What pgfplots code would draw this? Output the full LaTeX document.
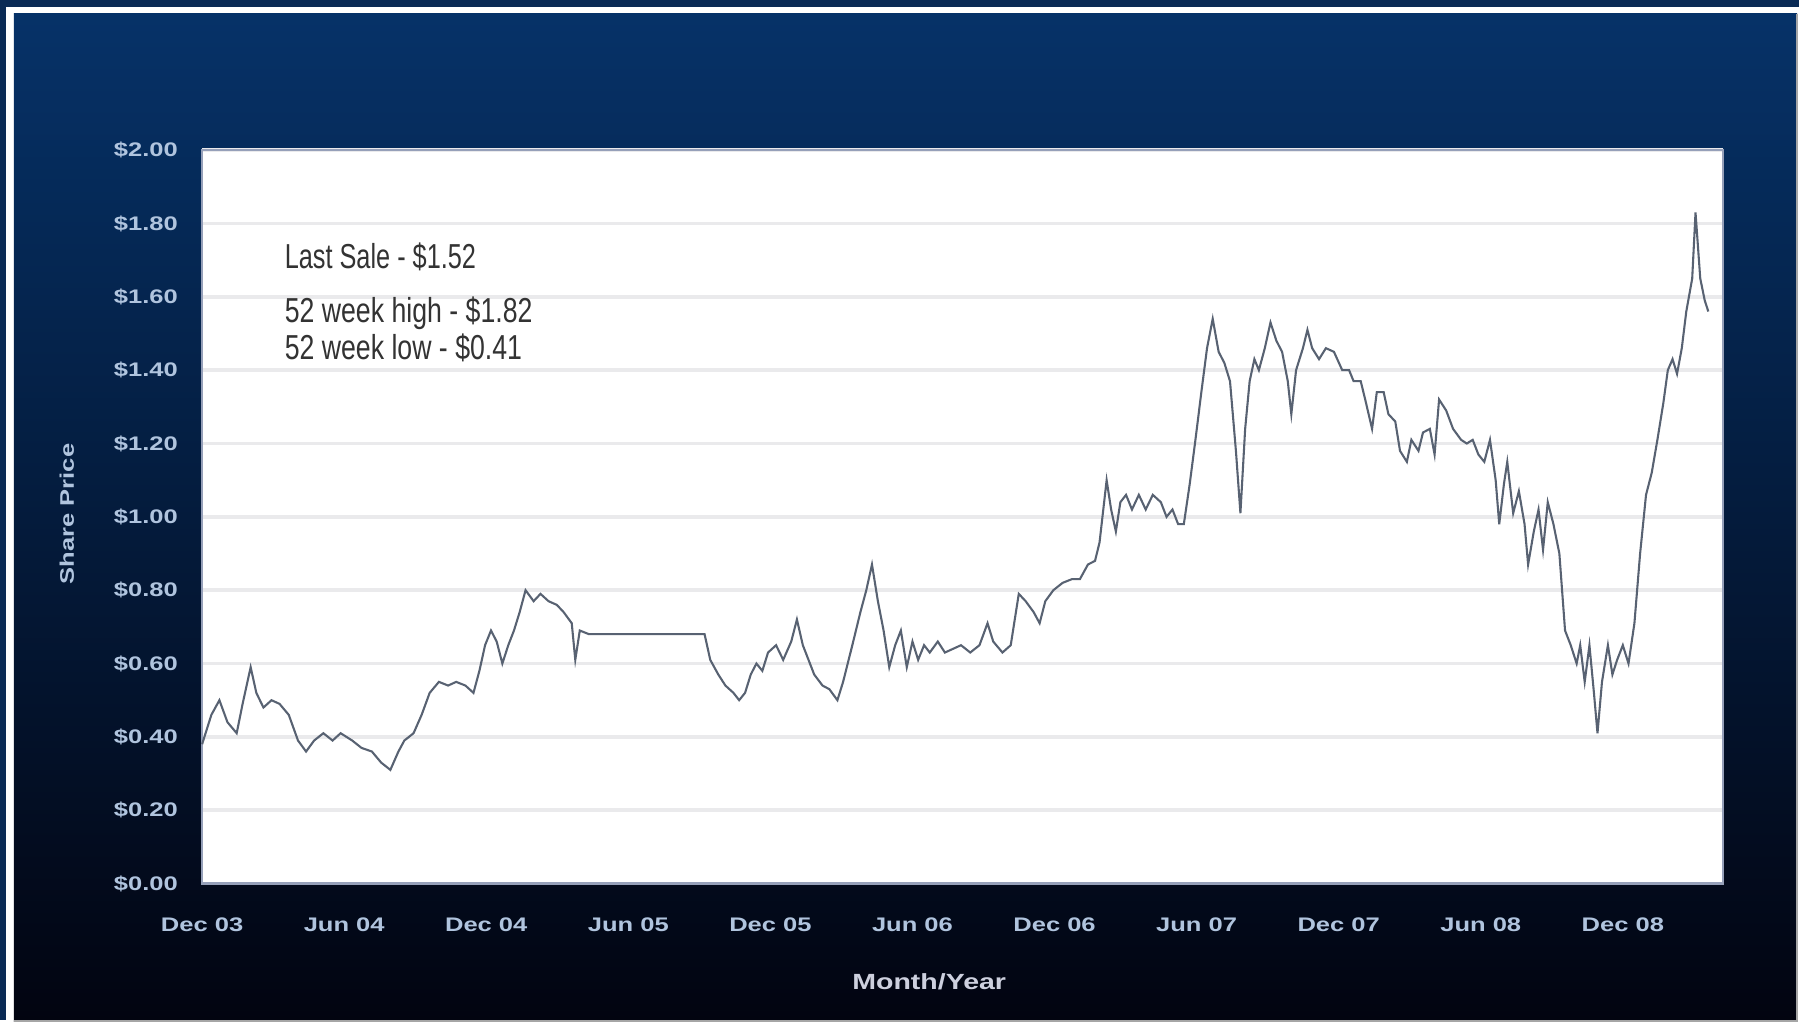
\documentclass[border=0pt]{standalone}
\usepackage{pgfplots}
\pgfplotsset{compat=1.18}
\usepackage{fontspec}
\setmainfont{Liberation Sans}
\newfontfamily\tickfont[FakeStretch=1.3]{Liberation Sans}
\newfontfamily\narrowfont[FakeStretch=0.73]{Liberation Sans}
\newfontfamily\narrowerfont[FakeStretch=0.77]{Liberation Sans}

\definecolor{navyframe}{RGB}{10,42,85}
\definecolor{paneltop}{RGB}{6,50,104}
\definecolor{panelmid}{RGB}{4,34,72}
\definecolor{panelbot}{RGB}{2,4,16}
\definecolor{tickblue}{RGB}{176,196,222}
\definecolor{labelgray}{RGB}{205,208,222}
\definecolor{pricegray}{RGB}{88,98,114}
\definecolor{gridgray}{RGB}{234,234,236}
\definecolor{edgegray}{RGB}{150,160,185}

% months since Dec 2003, share price in dollars
\begin{document}
\begin{tikzpicture}
\useasboundingbox (-87.5pt,-62pt) rectangle (696.5pt,382.5pt);
\fill[white] (-87.5pt,-62pt) rectangle (696.5pt,382.5pt);
\fill[navyframe] (-87.5pt,-59pt) rectangle (691.5pt,382.5pt);
\fill[white] (-85pt,-62pt) rectangle (696.5pt,379.5pt);
\shade[top color=paneltop, middle color=panelmid, bottom color=panelbot]
  (-81.5pt,-59.5pt) rectangle (690.5pt,376.5pt);
\draw[gray!70, line width=0.8pt] (690.5pt,376.5pt) -- (690.5pt,-59.5pt) -- (-81.5pt,-59.5pt);

\begin{axis}[
    at={(0pt,0pt)}, anchor=origin,
    scale only axis,
    width=658.5pt, height=317.5pt,
    xmin=0, xmax=64.24, ymin=0, ymax=2,
    axis background/.style={fill=white},
    axis line style={draw=edgegray, line width=1pt},
    major tick length=0pt,
    ymajorgrids,
    major grid style={draw=gridgray, line width=1.6pt},
    xtick={0,6,12,18,24,30,36,42,48,54,60},
    xticklabels={Dec 03,Jun 04,Dec 04,Jun 05,Dec 05,Jun 06,Dec 06,Jun 07,Dec 07,Jun 08,Dec 08},
    ytick={0,0.2,0.4,0.6,0.8,1,1.2,1.4,1.6,1.8,2},
    yticklabels={\$0.00,\$0.20,\$0.40,\$0.60,\$0.80,\$1.00,\$1.20,\$1.40,\$1.60,\$1.80,\$2.00},
    tick label style={font=\tickfont\bfseries\fontsize{8.5}{10}\selectfont, text=tickblue},
    yticklabel style={xshift=-7pt},
    xticklabel style={yshift=-11.5pt},
    xlabel={Month/Year},
    ylabel={Share Price},
    xlabel style={at={(axis description cs:0.478,-0.134)}, anchor=center,
        font=\tickfont\bfseries\fontsize{9.5}{11}\selectfont, text=labelgray},
    ylabel style={at={(axis description cs:-0.0889,0.504)}, anchor=center,
        font=\tickfont\bfseries\fontsize{8.5}{10}\selectfont, text=tickblue},
    clip=false,
]
\addplot[pricegray, line width=0.9pt] table {
x y
0 0.38
0.39 0.46
0.73 0.50
1.07 0.44
1.46 0.41
1.71 0.49
2.05 0.59
2.29 0.52
2.59 0.48
2.93 0.50
3.27 0.49
3.66 0.46
4.05 0.39
4.39 0.36
4.73 0.39
5.12 0.41
5.51 0.39
5.85 0.41
6.34 0.39
6.73 0.37
7.17 0.36
7.56 0.33
7.95 0.31
8.29 0.36
8.54 0.39
8.93 0.41
9.27 0.46
9.61 0.52
10.0 0.55
10.39 0.54
10.73 0.55
11.12 0.54
11.46 0.52
11.71 0.58
11.95 0.65
12.2 0.69
12.44 0.66
12.68 0.60
12.93 0.65
13.17 0.69
13.41 0.74
13.66 0.80
14.0 0.77
14.29 0.79
14.63 0.77
14.98 0.76
15.27 0.74
15.61 0.71
15.76 0.61
15.95 0.69
16.34 0.68
16.59 0.68
21.22 0.68
21.46 0.61
21.8 0.57
22.1 0.54
22.44 0.52
22.68 0.50
22.93 0.52
23.17 0.57
23.41 0.60
23.66 0.58
23.9 0.63
24.24 0.65
24.54 0.61
24.88 0.66
25.12 0.72
25.37 0.65
25.61 0.61
25.85 0.57
26.2 0.54
26.49 0.53
26.83 0.50
27.07 0.55
27.46 0.65
27.8 0.74
28.05 0.80
28.29 0.87
28.54 0.77
28.78 0.69
29.02 0.59
29.27 0.65
29.51 0.69
29.76 0.59
30.0 0.66
30.24 0.61
30.49 0.65
30.73 0.63
31.07 0.66
31.37 0.63
31.71 0.64
32.05 0.65
32.44 0.63
32.83 0.65
33.17 0.71
33.41 0.66
33.8 0.63
34.15 0.65
34.49 0.79
34.78 0.77
35.12 0.74
35.37 0.71
35.61 0.77
35.95 0.80
36.34 0.82
36.73 0.83
37.07 0.83
37.41 0.87
37.71 0.88
37.9 0.93
38.2 1.10
38.39 1.02
38.59 0.96
38.78 1.04
39.02 1.06
39.27 1.02
39.56 1.06
39.85 1.02
40.15 1.06
40.49 1.04
40.73 1.00
40.98 1.02
41.22 0.98
41.46 0.98
41.71 1.09
41.95 1.21
42.2 1.34
42.44 1.46
42.68 1.54
42.93 1.45
43.17 1.42
43.41 1.37
43.66 1.18
43.85 1.01
44.05 1.24
44.24 1.37
44.44 1.43
44.63 1.40
44.88 1.46
45.12 1.53
45.37 1.48
45.61 1.45
45.85 1.37
46.0 1.28
46.2 1.40
46.49 1.46
46.68 1.51
46.88 1.46
47.17 1.43
47.46 1.46
47.8 1.45
48.15 1.40
48.44 1.40
48.63 1.37
48.93 1.37
49.12 1.32
49.41 1.24
49.61 1.34
49.9 1.34
50.1 1.28
50.39 1.26
50.59 1.18
50.88 1.15
51.07 1.21
51.37 1.18
51.56 1.23
51.85 1.24
52.05 1.17
52.24 1.32
52.54 1.29
52.83 1.24
53.17 1.21
53.41 1.20
53.66 1.21
53.9 1.17
54.15 1.15
54.39 1.21
54.63 1.10
54.78 0.98
54.98 1.09
55.12 1.15
55.37 1.01
55.61 1.07
55.85 0.98
56.0 0.87
56.24 0.96
56.44 1.02
56.63 0.91
56.83 1.04
57.07 0.98
57.32 0.90
57.56 0.69
57.8 0.65
58.05 0.60
58.2 0.65
58.39 0.55
58.59 0.65
58.78 0.52
58.93 0.41
59.12 0.55
59.37 0.65
59.56 0.57
59.76 0.61
60.0 0.65
60.24 0.60
60.49 0.71
60.73 0.90
60.98 1.06
61.22 1.12
61.46 1.21
61.71 1.31
61.9 1.40
62.1 1.43
62.29 1.39
62.49 1.46
62.68 1.56
62.93 1.65
63.07 1.83
63.27 1.65
63.46 1.59
63.61 1.56
};
\node[anchor=west, text=black!80, font=\narrowfont\fontsize{15}{17}\selectfont]
  at (axis description cs:0.049,0.855) {Last Sale - \$1.52};
\node[anchor=west, text=black!80, font=\narrowerfont\fontsize{15}{17}\selectfont]
  at (axis description cs:0.049,0.778) {52 week high - \$1.82};
\node[anchor=west, text=black!80, font=\narrowerfont\fontsize{15}{17}\selectfont]
  at (axis description cs:0.049,0.730) {52 week low - \$0.41};
\end{axis}
\end{tikzpicture}
\end{document}
